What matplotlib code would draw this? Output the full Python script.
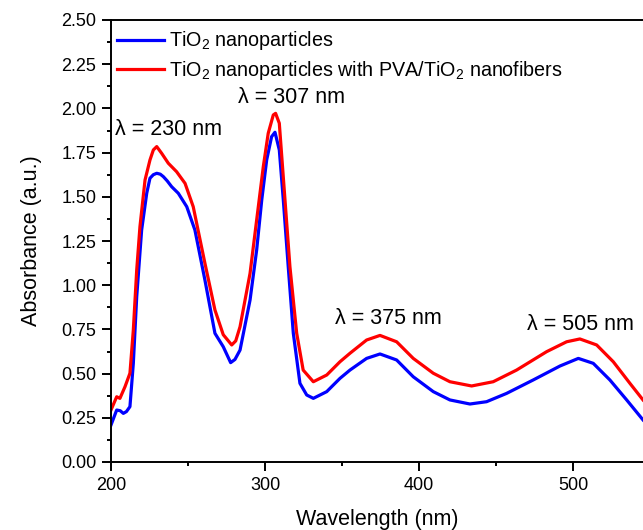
import matplotlib
matplotlib.use("Agg")
from matplotlib import pyplot as plt
from matplotlib.ticker import MultipleLocator

plt.rcParams['font.family'] = ['Liberation Sans', 'DejaVu Sans']
plt.rcParams['mathtext.fontset'] = 'custom'
plt.rcParams['mathtext.rm'] = 'Liberation Sans'
plt.rcParams['mathtext.it'] = 'Liberation Sans'

# valeurs
wl_blue = [200, 203.7, 206, 208, 210, 212.3, 214.5, 216.7, 219.9, 223.2, 225.3, 227.5,
           229.7, 232, 234, 236.5, 239.4, 243.7, 249.2, 254.5, 261, 267.5, 272.9, 277.7,
           280.5, 283.8, 290.3, 294.6, 297.9, 301.1, 304.3, 306.5, 309.3, 311.9, 315.1,
           318.4, 322.7, 327.1, 331.4, 340.1, 348.7, 355.2, 366, 374.7, 385.5, 396.3,
           409.3, 420.1, 433.1, 443.9, 456.9, 474.2, 491.6, 503.5, 513.2, 524, 534.9, 545.5]
abs_blue = [0.209, 0.294, 0.29, 0.275, 0.285, 0.313, 0.558, 0.935, 1.312, 1.52, 1.605, 1.625,
            1.633, 1.628, 1.614, 1.59, 1.557, 1.52, 1.444, 1.312, 1.029, 0.728, 0.652, 0.562,
            0.58, 0.633, 0.916, 1.199, 1.482, 1.708, 1.84, 1.865, 1.765, 1.482, 1.105,
            0.728, 0.445, 0.379, 0.36, 0.398, 0.473, 0.52, 0.586, 0.611, 0.577, 0.482,
            0.398, 0.351, 0.328, 0.341, 0.388, 0.464, 0.543, 0.586, 0.558, 0.464, 0.351, 0.238]

wl_red = [200, 203.7, 205.8, 209.1, 212.3, 214.5, 216.7, 218.8, 222.1, 225.3, 227.5, 229.7,
          232.9, 237.2, 242.6, 248.1, 253.4, 261, 267.5, 272.9, 278.4, 281, 283.8, 290.3,
          294.6, 298.9, 302.1, 305.4, 306.9, 309.3, 313, 316.2, 320.6, 324.8, 331.4, 340.1,
          348.7, 355.2, 366, 374.7, 385.5, 396.3, 409.3, 420.1, 434.2, 448.2, 463.4, 482.9,
          495.9, 504.5, 515.4, 526.2, 537, 545.5]
abs_red = [0.294, 0.369, 0.36, 0.426, 0.502, 0.747, 1.086, 1.331, 1.595, 1.708, 1.765, 1.784,
           1.746, 1.69, 1.642, 1.576, 1.444, 1.124, 0.86, 0.72, 0.662, 0.685, 0.765, 1.067,
           1.369, 1.67, 1.859, 1.963, 1.972, 1.916, 1.482, 1.105, 0.728, 0.52, 0.454, 0.492,
           0.567, 0.615, 0.69, 0.716, 0.68, 0.586, 0.502, 0.454, 0.43, 0.454, 0.52, 0.624,
           0.68, 0.696, 0.662, 0.567, 0.445, 0.351]

pics = ['λ = 230 nm', 'λ = 307 nm', 'λ = 375 nm', 'λ = 505 nm']
pics_xy = [(202.6, 1.878), (282.5, 2.064), (345.5, 0.809), (470.1, 0.78)]

fig = plt.figure(figsize=(6.43, 5.30), dpi=100)
ax = fig.add_axes([111/643, 68/530, 1 - 111/643, (462 - 20)/530])

ax.plot(wl_blue, abs_blue, color='#0000ff', lw=2.3, label=r'TiO$_2$ nanoparticles')
ax.plot(wl_red, abs_red, color='#ff0000', lw=2.3,
        label=r'TiO$_2$ nanoparticles with PVA/TiO$_2$ nanofibers')

for t, (x, y) in zip(pics, pics_xy):
    ax.text(x, y, t, fontsize=15.5, ha='left', va='center')

ax.set_xlim(200, 545.5)
ax.set_ylim(0, 2.5)
ax.xaxis.set_major_locator(MultipleLocator(100))
ax.xaxis.set_minor_locator(MultipleLocator(50))
ax.yaxis.set_major_locator(MultipleLocator(0.25))
ax.yaxis.set_minor_locator(MultipleLocator(0.125))
ax.yaxis.set_major_formatter(matplotlib.ticker.FormatStrFormatter('%.2f'))
ax.tick_params(which='major', direction='out', length=6.5, width=1.4, labelsize=13, pad=4)
ax.tick_params(which='minor', direction='out', length=3, width=1.4)
for s in ['left', 'bottom', 'top']:
    ax.spines[s].set_linewidth(1.4)
ax.spines['right'].set_visible(False)

ax.set_xlabel('Wavelength (nm)', fontsize=15.5, labelpad=11)
ax.set_ylabel('Absorbance (a.u.)', fontsize=15.5, labelpad=14)

ax.legend(loc='upper left', bbox_to_anchor=(0.0, 0.992), frameon=False, fontsize=14.2,
          handlelength=2.4, handletextpad=0.25, labelspacing=0.35, borderpad=0.3,
          borderaxespad=0)

fig.savefig('out.png', dpi=100)
